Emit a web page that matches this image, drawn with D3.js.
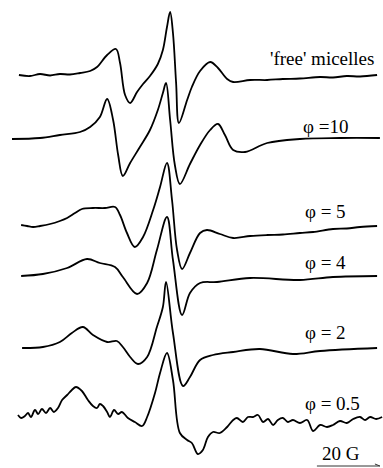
<!DOCTYPE html>
<html>
<head>
<meta charset="utf-8">
<script src="https://cdn.jsdelivr.net/npm/d3@7"></script>
<style>
  html, body { margin: 0; padding: 0; background: #fff; }
  svg { display: block; }
</style>
</head>
<body>
<svg id="chart"></svg>
<script>
// field in G, intensity in a.u. (relative to each spectrum's own baseline)
const freeMicelles = [
  [2.2, 0], [5.7, -0.1], [8.9, 0.1], [12.1, -0.05], [15.2, 0.1], [18.4, 0.05], [21.6, 0.2],
  [24.8, 0.4], [27.0, 0.8], [30.2, 2.0], [33.0, 2.6], [34.3, 1.2], [35.9, -2.0], [37.5, -2.8],
  [39.7, -1.7], [41.6, -0.9], [43.8, -0.1], [46.3, 1.1], [47.9, 2.5], [49.2, 4.8], [50.2, 6.3],
  [51.1, 4.2], [52.1, -0.8], [53.0, -4.8], [55.6, -2.5], [57.1, -1.2], [59.7, 0.4], [62.9, 1.3],
  [65.4, 0.7], [68.3, -0.4], [70.2, -0.7], [75.6, -0.5], [81.0, -0.5], [86.0, -0.4],
  [91.4, -0.35], [97.8, -0.2], [101.9, -0.25], [106.3, -0.1], [110.5, -0.15], [115.9, 0]
];
const phi10 = [
  [0, 0], [8.9, 0.1], [15.2, 0.4], [21.6, 0.7], [24.8, 1.2], [27.9, 2.2], [30.2, 4.0],
  [32.1, 1.9], [33.7, -1.6], [35.2, -3.7], [37.5, -2.4], [40.6, -0.8], [43.8, 0.9], [46.3, 2.9],
  [47.9, 4.6], [48.9, 5.6], [50.2, 1.9], [51.7, -2.6], [53.3, -4.5], [56.5, -2.5], [59.7, -0.6],
  [62.9, 0.9], [65.4, 1.5], [67.6, 0.4], [70.2, -1.1], [74.0, -1.3], [81.0, -0.4], [91.4, 0],
  [104.1, 0.1], [116.8, 0.1]
];
const phi5 = [
  [2.9, 0], [4.8, -0.1], [6.7, -0.2], [8.9, -0.1], [12.1, 0.1], [15.2, 0.4], [17.5, 0.7],
  [20.0, 1.2], [22.2, 1.6], [25.7, 1.7], [29.5, 1.7], [32.7, 1.8], [34.3, 1.0], [36.5, -0.8],
  [39.0, -2.2], [41.6, -1.2], [44.8, 1.5], [47.0, 3.8], [49.2, 6.2], [50.8, 2.5], [52.4, -2.5],
  [54.0, -4.4], [56.5, -2.8], [59.7, -0.8], [61.9, -0.5], [66.0, -0.9], [70.2, -1.3],
  [75.6, -1.1], [81.0, -1.0], [86.0, -0.95], [91.4, -0.8], [95.6, -0.7], [101.9, -0.4],
  [106.3, -0.35], [110.5, -0.2], [115.9, -0.1]
];
const phi4 = [
  [2.9, 0], [9.8, 0.2], [17.5, 0.8], [23.8, 1.7], [27.9, 1.3], [32.7, 0.9], [35.2, -0.1],
  [39.7, -1.8], [42.9, -0.7], [46.0, 2.6], [49.2, 5.9], [51.1, 1.6], [54.0, -3.9], [56.5, -1.7],
  [59.7, -0.7], [65.1, -0.6], [75.6, -0.2], [91.4, -0.4], [101.9, -0.1], [115.9, 0]
];
const phi2 = [
  [3.2, 0], [9.8, 0.1], [15.2, 0.6], [19.0, 1.5], [22.5, 2.1], [25.7, 1.3], [30.2, 0.6],
  [33.3, 0.7], [35.2, 0.1], [37.5, -0.9], [40.0, -1.6], [42.9, -0.9], [46.0, 2.1], [47.9, 4.1],
  [48.9, 6.6], [51.1, 1.5], [54.3, -3.8], [56.5, -2.9], [59.7, -1.2], [63.8, -0.7], [70.2, -0.4],
  [78.7, -0.1], [89.2, -0.6], [97.8, -0.3], [115.9, 0]
];
const phi05 = [
  [1.9, 0], [2.9, -0.3], [4.1, -0.1], [5.1, 0.2], [6.0, -0.2], [7.3, 0.5], [8.3, 0.1],
  [9.5, 0.6], [10.8, 0.2], [12.1, 0.7], [13.3, 0.3], [14.6, 0.7], [15.9, 1.5], [17.5, 2.0],
  [19.0, 2.5], [20.3, 2.8], [22.2, 2.4], [24.1, 1.5], [25.7, 0.9], [27.0, 0.7], [27.9, 1.1],
  [28.9, 0.9], [30.2, 0.3], [31.1, -0.2], [32.4, 0.5], [33.7, 0.1], [34.9, 0.3], [36.8, -0.3],
  [39.0, -0.7], [41.3, -1.1], [42.9, -0.2], [45.4, 2.2], [47.0, 4.2], [49.2, 6.2], [51.1, 3.5],
  [53.3, -1.8], [55.6, -2.5], [57.1, -2.8], [59.0, -3.9], [60.6, -3.5], [62.2, -2.2],
  [63.8, -1.7], [66.0, -1.8], [68.3, -1.2], [70.2, -0.5], [71.4, -0.3], [73.3, -0.7],
  [74.9, -0.2], [76.5, -0.2], [78.1, 0], [79.7, -0.7], [81.3, -0.4], [82.9, -1.0], [84.4, -0.5],
  [86.0, -0.3], [87.6, -0.7], [89.2, -0.5], [91.4, -0.8], [93.7, -0.5], [95.6, -1.6],
  [97.8, -1.0], [100.0, -1.2], [101.9, -1.0], [104.1, -0.6], [106.3, -0.8], [108.3, -0.4],
  [110.5, -0.2], [112.1, -0.5], [113.7, -0.2], [115.6, -0.4], [117.5, -0.2]
];

const spectra = [freeMicelles, phi10, phi5, phi4, phi2, phi05];
const labels = ["'free' micelles", "φ =10", "φ = 5", "φ = 4", "φ = 2", "φ = 0.5"];
const offsets = [39.3, 32.9, 24.3, 19.2, 12.0, 5.3];
const scaleBar = { from: 96.8, length: 20, text: "20 G" };

const width = 383, height = 468;
const font = "'Liberation Serif', 'Times New Roman', Times, 'DejaVu Serif', serif";
const svg = d3.select("#chart").attr("width", width).attr("height", height)
  .attr("viewBox", [0, 0, width, height]);

const x = d3.scaleLinear().domain([0, 120]).range([12, 390]);
const y = d3.scaleLinear().domain([0, 46.8]).range([height, 0]);

const line = d3.line()
  .curve(d3.curveCatmullRom.alpha(0.5));

spectra.forEach((data, i) => {
  line.x(d => x(d[0])).y(d => y(d[1] + offsets[i]));
  svg.append("path")
    .datum(data)
    .attr("fill", "none")
    .attr("stroke", "#000")
    .attr("stroke-width", 1.8)
    .attr("stroke-linejoin", "round")
    .attr("d", line);
});

// labels sit just above the right-hand baseline of each trace
const labelLift = [1.0, 0.63, 0.7, 0.7, 0.9, 0.5];
svg.selectAll("text.label")
  .data(labels)
  .join("text")
  .attr("class", "label")
  .attr("font-family", font)
  .attr("font-size", 19)
  .attr("x", (d, i) => x(i === 0 ? 81.9 : i === 1 ? 92.4 : 93.0))
  .attr("y", (d, i) => y(offsets[i] + labelLift[i]))
  .text(d => d);

// 20 G scale bar
const barY = y(0.2);
const x1 = x(scaleBar.from), x2 = x(scaleBar.from + scaleBar.length);
svg.append("line")
  .attr("x1", x1).attr("x2", x2)
  .attr("y1", barY).attr("y2", barY)
  .attr("stroke", "#333")
  .attr("stroke-width", 1);
svg.append("path")
  .attr("d", `M${x2 - 5},${barY - 2}L${x2},${barY}`)
  .attr("stroke", "#333")
  .attr("fill", "none");
svg.append("text")
  .attr("font-family", font)
  .attr("font-size", 19)
  .attr("x", x(scaleBar.from + 1.6))
  .attr("y", barY - 6)
  .text(scaleBar.text);
</script>
</body>
</html>
